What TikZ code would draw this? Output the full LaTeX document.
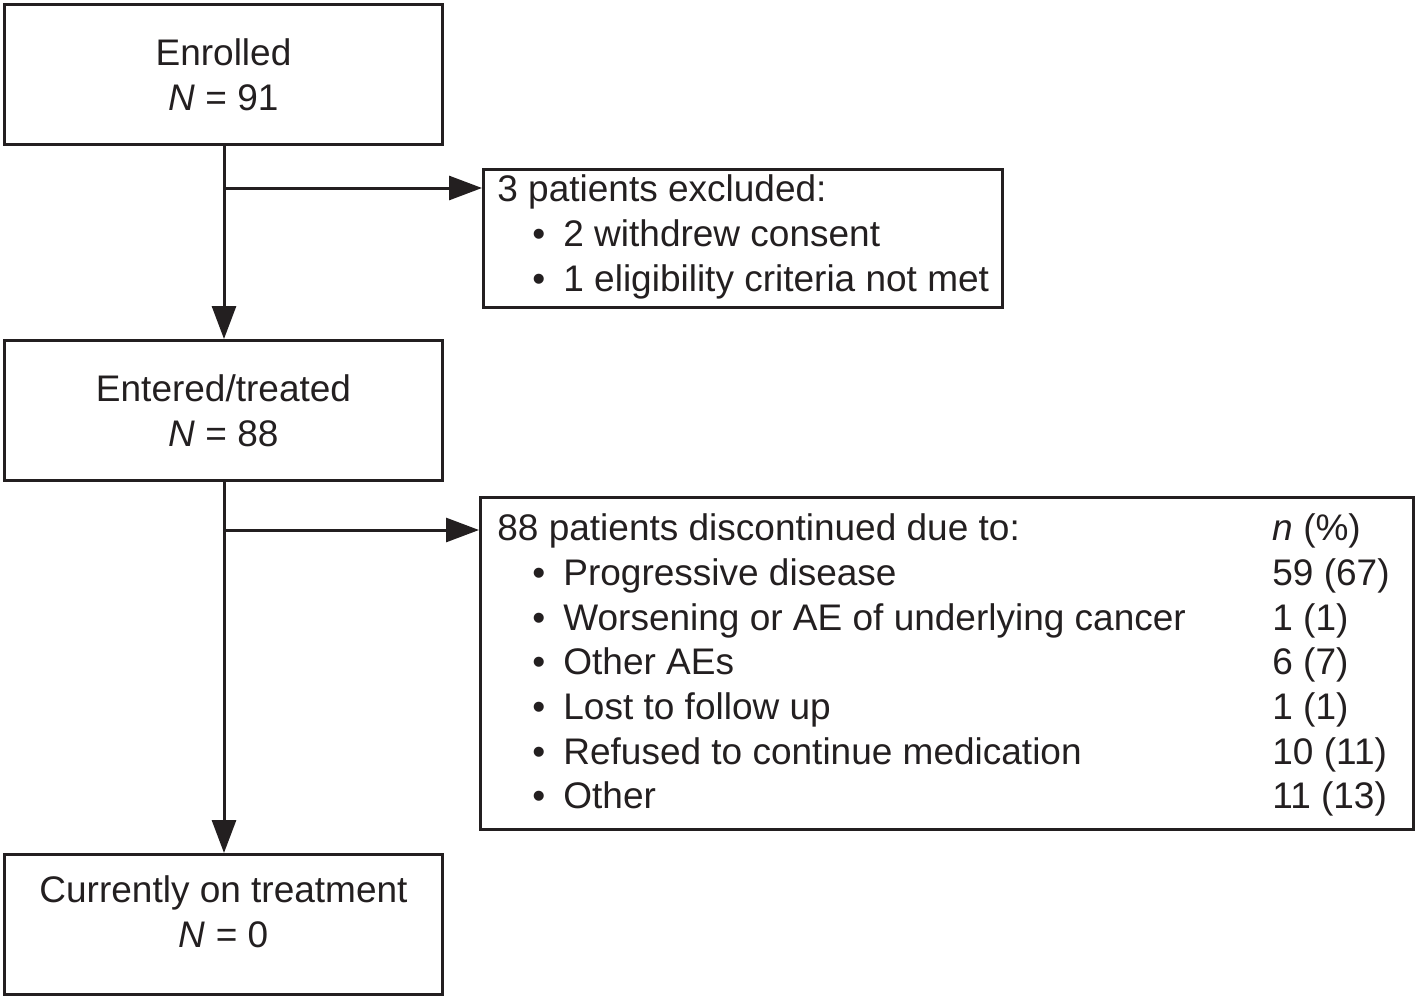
\documentclass[tikz,border=0pt]{standalone}
\usepackage{fontspec}
\setmainfont{Liberation Sans}
\usetikzlibrary{arrows.meta}
\definecolor{ink}{HTML}{231F20}
\begin{document}
\begin{tikzpicture}[x=0.5pt,y=-0.5pt,
  box/.style={draw=ink,line width=1.5pt,rectangle,inner sep=0pt},
  mainbox/.style={box,minimum width=219pt,minimum height=70pt,align=center,
    font=\fontsize{18.5}{22.5}\selectfont,text=ink},
  txt/.style={anchor=base west,inner sep=0pt,font=\fontsize{18.5}{22.5}\selectfont,text=ink},
  conn/.style={draw=ink,line width=1.5pt},
  arr/.style={conn,-{Triangle[length=16.5pt,width=12pt]}}]
\useasboundingbox (0,0) rectangle (1418,1001);
% main boxes
\node[mainbox] (enr) at (223.5,74.5) {Enrolled\\\textit{N} = 91};
\node[mainbox] (ent) at (223.5,410.5) {Entered/treated\\\textit{N} = 88};
\node[mainbox,text depth=13pt] (cur) at (223.5,924.5) {Currently on treatment\\\textit{N} = 0};
% side boxes
\node[box,minimum width=259.5pt,minimum height=69pt] (exc) at (743,238.5) {};
\node[box,minimum width=466.5pt,minimum height=166pt] (dis) at (947,663.5) {};
% excluded text
\node[txt] (e0) at (497,201) {3 patients excluded:};
\node[txt] (e1b) at (532,246) {•};
\node[txt] (e1) at (563,246) {2 withdrew consent};
\node[txt] (e2b) at (532,291) {•};
\node[txt] (e2) at (563,291) {1 eligibility criteria not met};
% discontinued text
\node[txt] (d0) at (497,540) {88 patients discontinued due to:};
\node[txt] (d0n) at (1272,540) {\textit{n} (\%)};
\node[txt] (d1b) at (532,585) {•};
\node[txt] (d1) at (563,585) {Progressive disease};
\node[txt] (d1n) at (1272,585) {59 (67)};
\node[txt] (d2b) at (532,630) {•};
\node[txt] (d2) at (563,630) {Worsening or AE of underlying cancer};
\node[txt] (d2n) at (1272,630) {1 (1)};
\node[txt] (d3b) at (532,674) {•};
\node[txt] (d3) at (563,674) {Other AEs};
\node[txt] (d3n) at (1272,674) {6 (7)};
\node[txt] (d4b) at (532,719) {•};
\node[txt] (d4) at (563,719) {Lost to follow up};
\node[txt] (d4n) at (1272,719) {1 (1)};
\node[txt] (d5b) at (532,764) {•};
\node[txt] (d5) at (563,764) {Refused to continue medication};
\node[txt] (d5n) at (1272,764) {10 (11)};
\node[txt] (d6b) at (532,808) {•};
\node[txt] (d6) at (563,808) {Other};
\node[txt] (d6n) at (1272,808) {11 (13)};
% connectors
\coordinate (j1) at (224,188);
\coordinate (j2) at (224,530);
\draw[arr] (enr.south -| j1) -- (ent.north -| j1);
\draw[arr] (j1) -- (exc.west |- j1);
\draw[arr] (ent.south -| j2) -- (cur.north -| j2);
\draw[arr] (j2) -- (dis.west |- j2);
\end{tikzpicture}
\end{document}
